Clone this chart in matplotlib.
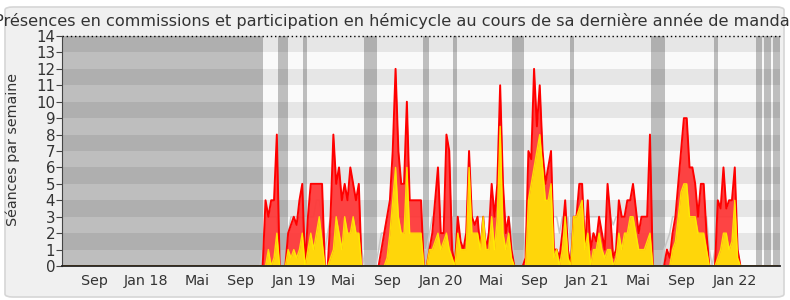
import matplotlib
matplotlib.use('Agg')
import matplotlib.pyplot as plt
from matplotlib.patches import FancyBboxPatch
import numpy as np

title = "Présences en commissions et participation en hémicycle au cours de sa dernière année de mandat"
ylabel = "Séances par semaine"

n_weeks = 254
data_start = 70  # first week index of the value lists below

# weekly values from week 70 to week 239
red = [0, 0, 4, 3, 4, 4, 8, 0, 0, 0,
       2, 2.5, 3, 2.5, 4, 5, 0, 3, 5, 5,
       5, 5, 5, 0, 0, 3, 8, 5, 6, 4,
       5, 4, 6, 5, 4, 5, 0, 0, 0, 0,
       0, 0, 0, 1, 2, 3, 4, 7, 12, 7,
       5, 5, 10, 4, 4, 4, 4, 4, 0, 0,
       1, 2, 4, 6, 2, 2, 8, 7, 1, 0,
       3, 1.5, 1, 2, 7, 3, 2.5, 3, 1, 3,
       1, 2, 5, 3, 5, 11, 5, 2, 3, 1,
       0, 0, 0, 0, 0.5, 7, 6.5, 12, 8.5, 11,
       7, 5, 6, 7, 1, 1, 0.5, 2, 4, 1,
       0, 3, 3, 5, 5, 1, 4, 1, 2, 1.5,
       3, 2, 1, 5, 3, 0.5, 1, 4, 3, 3,
       4, 4, 5, 3.5, 2, 3, 3, 3, 8, 0,
       0, 0, 0, 0, 1, 0.5, 2, 3, 5, 7,
       9, 9, 6, 6, 5, 3, 5, 5, 2, 0,
       0, 0, 4, 3.5, 6, 3.5, 4, 4, 6, 1]

yellow = [0, 0, 0, 1, 0, 0.5, 2, 0, 0, 0,
          1, 0.5, 1, 0.5, 1, 2, 0, 1, 2, 1,
          2, 3, 1.5, 0, 0, 0.5, 1, 3, 2, 1,
          3, 2, 2, 3, 2, 2, 0, 0, 0, 0,
          0, 0, 0, 0, 0, 0.5, 2, 4, 6, 3,
          2, 2, 6, 2, 2, 2, 2, 2, 0, 0,
          1, 1, 1.5, 2, 1, 1.5, 2, 1, 0.5, 0,
          2, 1, 1, 1, 6, 2, 2, 2, 1, 3,
          1, 1, 3, 1, 3, 8.5, 2, 1, 2, 0.5,
          0, 0, 0, 0, 0, 4, 5, 6, 7, 8,
          6, 4, 4, 5, 0.5, 1, 0, 1, 3, 0.5,
          0, 3, 3, 3.5, 4, 1, 2, 0, 1, 1,
          2, 1, 0.5, 1, 1, 0, 0.5, 2, 1, 2,
          2, 3, 3, 2, 1, 1, 1, 1.5, 2, 0,
          0, 0, 0, 0, 0, 0, 1, 1.5, 3, 4.5,
          5, 5, 3, 3, 3, 2, 2, 2, 1, 0,
          0, 0, 0.5, 1, 2, 2, 1, 1.5, 4, 0.5]

median = [0, 1, 3, 3, 3, 3, 3, 0, 0, 0,
          2, 3, 3, 3, 3, 3, 1, 3, 3, 3,
          4, 4, 3, 1, 2, 3, 3, 3, 2.5, 3,
          3, 2.5, 3, 3, 2.5, 3, 1, 0, 0, 0,
          0, 0, 1, 2, 2, 3, 3, 3, 3, 3,
          3, 3, 3, 3, 3, 3, 3, 3, 1, 1,
          2, 3, 3, 3, 3, 3, 3, 3, 3, 1,
          3, 3, 3, 3, 3, 3, 3, 3, 3, 3,
          3, 3, 3, 3, 3, 3, 3, 3, 3, 2,
          0, 0, 0, 0, 2, 3, 3, 3, 3, 3,
          3, 3, 3, 3, 3, 3, 2, 3, 2, 3,
          1, 3, 3, 3, 3, 3, 3, 3, 3, 3,
          3, 3, 3, 3, 3, 2.5, 3, 3, 3, 3,
          3, 3, 3, 3, 3, 3, 3, 3, 3, 0,
          0, 0, 0, 1, 1.5, 2, 3, 3, 3, 3,
          3, 3, 3, 3, 3, 3, 3, 3, 3, 1,
          0, 1, 3, 3, 3, 3, 3, 3, 3, 1]

# weeks without sessions (start, end in week units)
holidays = [(0, 71.1), (76.4, 79.9), (85.2, 86.7), (106.8, 111.4), (127.7, 129.8),
            (138.3, 139.7), (159.2, 163.4), (179.7, 181.1), (208.3, 213.3),
            (230.6, 232.0), (245.5, 247.6), (248.3, 250.8), (251.5, 254.0)]

tick_pos = [11.3, 29.9, 47.8, 63.1, 81.9, 99.6, 115.3, 133.9, 151.8, 167.1,
            185.9, 203.7, 219.1, 237.9]
tick_labels = ["Sep", "Jan 18", "Mai", "Sep", "Jan 19", "Mai", "Sep", "Jan 20",
               "Mai", "Sep", "Jan 21", "Mai", "Sep", "Jan 22"]

weeks = np.arange(n_weeks)
red_full = np.zeros(n_weeks)
red_full[data_start:data_start + len(red)] = red
yel_full = np.zeros(n_weeks)
yel_full[data_start:data_start + len(yellow)] = yellow
med_full = np.zeros(n_weeks)
med_full[data_start:data_start + len(median)] = median

W, H = 790, 300
fig = plt.figure(figsize=(W / 100, H / 100), dpi=100)
fig.patch.set_facecolor('white')

panel = FancyBboxPatch((5 / W, 3 / H), 779 / W, 290 / H,
                       boxstyle="round,pad=0,rounding_size=0.01",
                       transform=fig.transFigure, facecolor='#f0f0f0',
                       edgecolor='#d6d6d6', linewidth=1.2, zorder=-10)
fig.patches.append(panel)

ax = fig.add_axes([62 / W, 34 / H, 718 / W, 230 / H])
ax.set_zorder(5)
ax.set_facecolor('#fafafa')
ax.set_xlim(0, n_weeks)
ax.set_ylim(0, 14)

for k in range(14):
    ax.axhspan(k, k + 1, color='#e6e6e6' if k % 2 == 1 else '#fafafa', lw=0, zorder=0)
for a, b in holidays:
    ax.axvspan(a, b, color='black', alpha=0.24, lw=0, zorder=1)

ax.plot(weeks, med_full, color='#c8c8c8', lw=1.1, zorder=2)
ax.fill_between(weeks, 0, red_full, color='#ff3434', alpha=0.92, lw=0, zorder=3)
ax.plot(weeks, red_full, color='#ff0000', lw=1.4, zorder=4)
ax.fill_between(weeks, 0, yel_full, color='#ffd60a', lw=0, zorder=5)
ax.plot(weeks, yel_full, color='#ffee00', lw=1.0, alpha=0.9, zorder=6)

ax.axhline(14, color='black', lw=1, ls=(0, (1, 2)), zorder=7, clip_on=False)

for s in ['top', 'right']:
    ax.spines[s].set_visible(False)
ax.spines['left'].set_color('#444444')
ax.spines['bottom'].set_color('#222222')
ax.spines['bottom'].set_linewidth(1.3)
ax.spines['left'].set_zorder(8)
ax.spines['bottom'].set_zorder(8)

ax.set_yticks(range(0, 15))
ax.tick_params(axis='y', length=4, width=0.8, color='#444444', pad=1,
               labelsize=10.8, labelcolor='#333333')
ax.set_xticks(tick_pos)
ax.set_xticklabels(tick_labels)
ax.tick_params(axis='x', length=0, pad=6, labelsize=10.3, labelcolor='#333333')

fig.text(12.5 / W, 1 - 150 / H, ylabel, rotation=90, ha='center', va='center',
         fontsize=10.3, color='#333333')

fig.text(0.5, 1 - 26 / H, title, ha='center', va='baseline', fontsize=11.6,
         color='#333333')

fig.savefig('out.png', dpi=100, facecolor='white')
